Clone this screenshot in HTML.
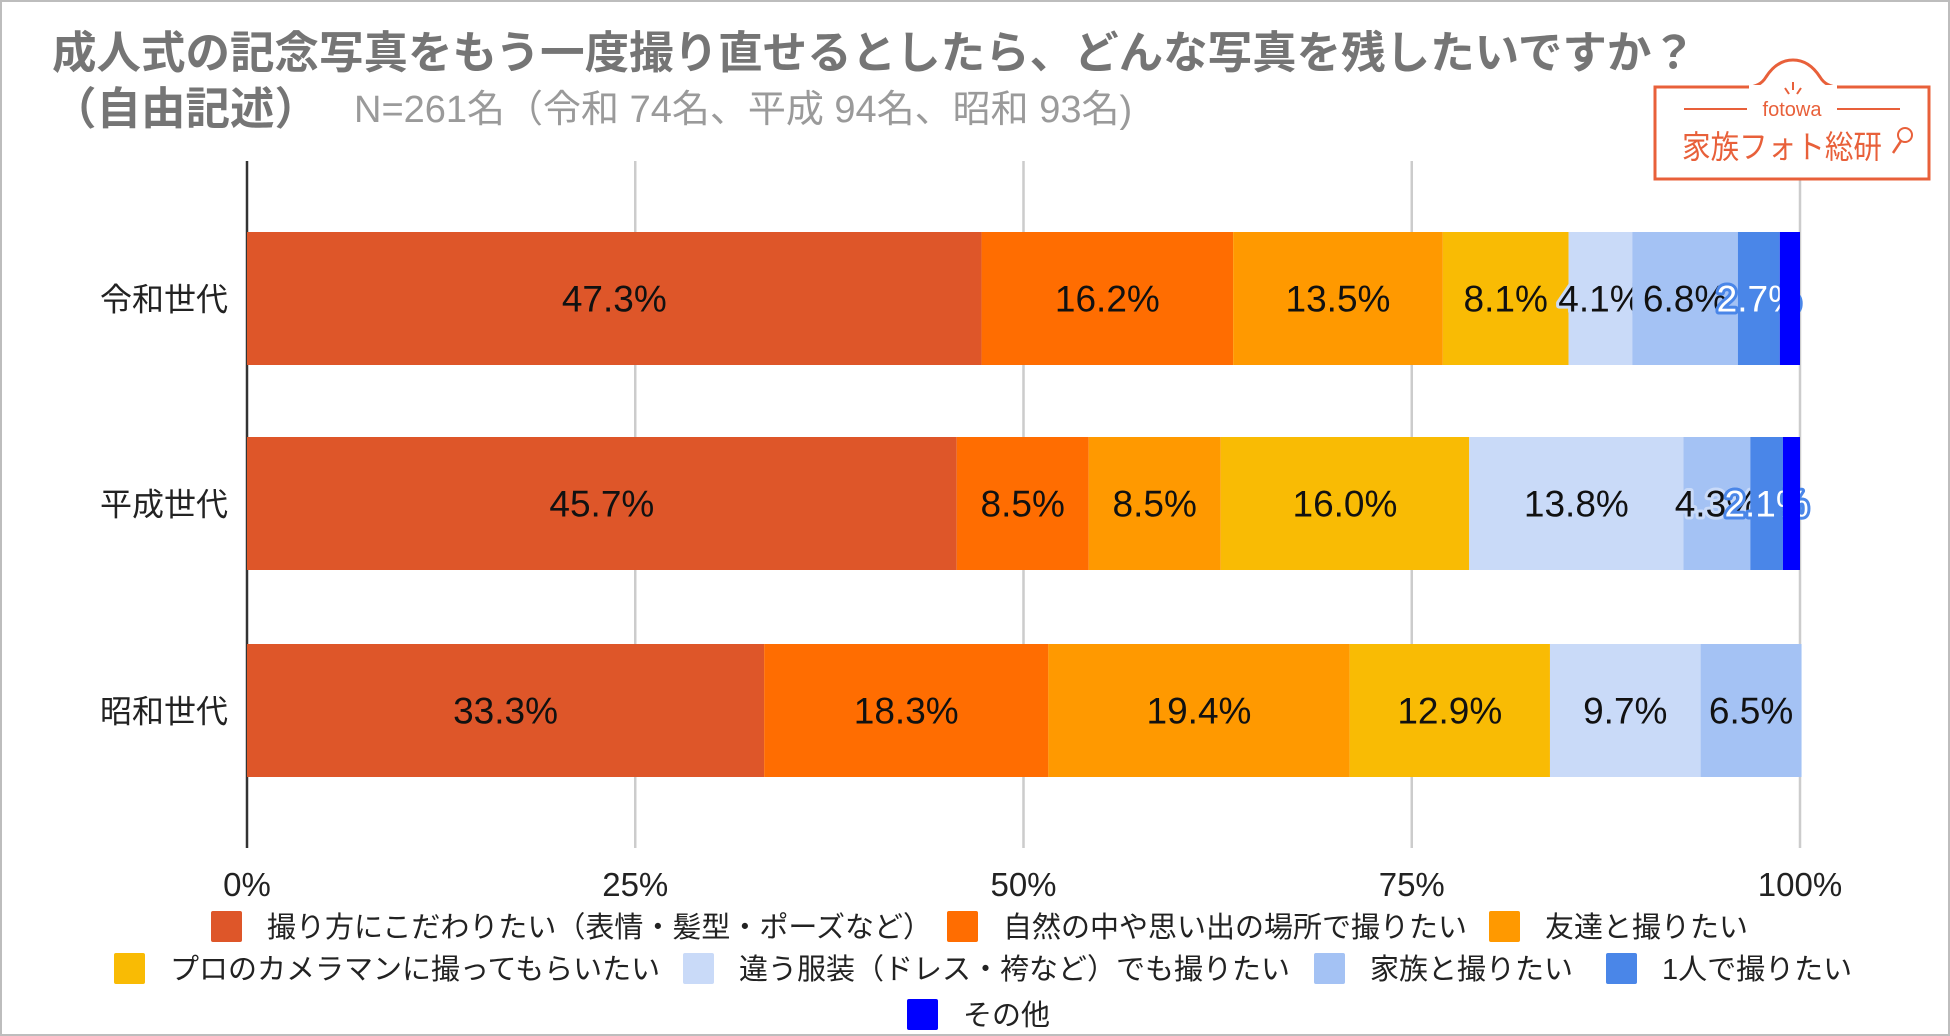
<!DOCTYPE html>
<html><head><meta charset="utf-8">
<style>
body{margin:0;background:#fff;}
#root{position:relative;width:1950px;height:1036px;overflow:hidden;background:#fff;font-family:"Liberation Sans","Noto Sans CJK JP",sans-serif;box-sizing:border-box;border:2px solid #bdbdbd;}
.t1{position:absolute;left:50px;top:30px;font-size:44.5px;font-weight:bold;color:#757575;white-space:nowrap;line-height:1;}
.t2{position:absolute;left:50px;top:86px;font-size:44.5px;font-weight:bold;color:#757575;white-space:nowrap;line-height:1;}
.sub{position:absolute;left:352px;top:89px;font-size:38px;color:#9a9a9a;white-space:nowrap;line-height:1;}
svg text{font-family:"Liberation Sans","Noto Sans CJK JP",sans-serif;}
</style></head><body>
<div id="root">
<div class="t1">成人式の記念写真をもう一度撮り直せるとしたら、どんな写真を残したいですか？</div>
<div class="t2">（自由記述）</div>
<div class="sub">N=261名（令和 74名、平成 94名、昭和 93名)</div>
<svg id="chart" width="1950" height="1036" style="position:absolute;left:0;top:0"></svg>
<svg id="logo" style="position:absolute;left:1640px;top:20px" width="300" height="170">
<rect x="13" y="65" width="274" height="92" fill="#fff" stroke="#e8603a" stroke-width="3"/>
<path d="M105,65 Q118,65 124,55 Q135,38 151,38 Q167,38 178,55 Q184,65 197,65" fill="#fff" stroke="#e8603a" stroke-width="3"/>
<rect x="107" y="63" width="88" height="6" fill="#fff"/>
<line x1="143" y1="66" x2="147" y2="72" stroke="#e8603a" stroke-width="2"/>
<line x1="151" y1="60" x2="151" y2="68" stroke="#e8603a" stroke-width="2"/>
<line x1="159" y1="66" x2="155" y2="72" stroke="#e8603a" stroke-width="2"/>
<line x1="42" y1="87" x2="105" y2="87" stroke="#e8603a" stroke-width="2"/>
<line x1="195" y1="87" x2="258" y2="87" stroke="#e8603a" stroke-width="2"/>
<text x="150" y="94" font-size="20" fill="#e8603a" text-anchor="middle">fotowa</text>
<text x="40" y="136" font-size="32" fill="#e8603a" textLength="200" lengthAdjust="spacingAndGlyphs">家族フォト総研</text>
<circle cx="263" cy="113" r="7" fill="none" stroke="#e8603a" stroke-width="2"/>
<line x1="259" y1="119" x2="251" y2="131" stroke="#e8603a" stroke-width="2.5"/>
</svg>
</div>
<script>
const categories=["令和世代","平成世代","昭和世代"];
const seriesNames=["撮り方にこだわりたい（表情・髪型・ポーズなど）","自然の中や思い出の場所で撮りたい","友達と撮りたい","プロのカメラマンに撮ってもらいたい","違う服装（ドレス・袴など）でも撮りたい","家族と撮りたい","1人で撮りたい","その他"];
const reiwa=[47.3,16.2,13.5,8.1,4.1,6.8,2.7,1.3];
const heisei=[45.7,8.5,8.5,16.0,13.8,4.3,2.1,1.1];
const showa=[33.3,18.3,19.4,12.9,9.7,6.5,0,0];
const tickLabels=["0%","25%","50%","75%","100%"];
const tickValues=[0,25,50,75,100];
const colors=["#de5629","#ff6d01","#ff9900","#f9bb04","#c9daf8","#a4c2f4","#4a86e8","#0000ff"];
const data=[reiwa,heisei,showa];
const NS="http://www.w3.org/2000/svg";
const svg=document.getElementById('chart');
const X0=245,X1=1798;
const xs=v=>X0+(X1-X0)*v/100;
const rowTop=[230,435,642],barH=133;
const ys=i=>rowTop[i];
function mk(tag,at,parent){const e=document.createElementNS(NS,tag);for(const k in at)e.setAttribute(k,at[k]);(parent||svg).appendChild(e);return e;}
tickValues.forEach((v,i)=>{
  if(i>0){const g=mk('line',{x1:xs(v),x2:xs(v),y1:159,y2:846,stroke:'#cccccc','stroke-width':2.5});
  
  }
  const t=mk('text',{x:xs(v),y:894,'font-size':33,fill:'#222','text-anchor':'middle'});t.textContent=tickLabels[i];
  
  
});
const ax=mk('line',{x1:X0,x2:X0,y1:159,y2:846,stroke:'#333','stroke-width':2.5});


data.forEach((row,ri)=>{
  const cl=mk('text',{x:226,y:ys(ri)+barH/2+12,'font-size':32,fill:'#222','text-anchor':'end'});cl.textContent=categories[ri];
  
  
  let acc=0;
  row.forEach((v,si)=>{
    if(v<=0)return;
    const r=mk('rect',{x:xs(acc),y:ys(ri),width:xs(acc+v)-xs(acc),height:barH,fill:colors[si]});
    
    
    const cx=(xs(acc)+xs(acc+v))/2;acc+=v;
    if(v<2)return;
    const white=si===6;
    const t=mk('text',{x:cx,y:ys(ri)+barH/2+13,'font-size':37,'text-anchor':'middle',fill:white?'#fff':'#111'});
    if(white||(v<5)){t.setAttribute('stroke',white?'#4a86e8':'#c9daf8');t.setAttribute('stroke-width',6);t.setAttribute('paint-order','stroke');t.setAttribute('stroke-linejoin','round');}
    t.textContent=v.toFixed(1)+'%';
    
    
  });
});
const legPos=[[209,924],[945,924],[1487,924],[112,966],[681,966],[1312,966],[1604,966],[905,1012]];
seriesNames.forEach((n,i)=>{
  const [lx,ly]=legPos[i];
  const s=mk('rect',{x:lx,y:ly-15,width:31,height:31,rx:2,fill:colors[i]});
  
  
  const t=mk('text',{x:lx+56,y:ly+11,'font-size':29,fill:'#222'});t.textContent=n;
  
  
});
</script>
</body></html>
